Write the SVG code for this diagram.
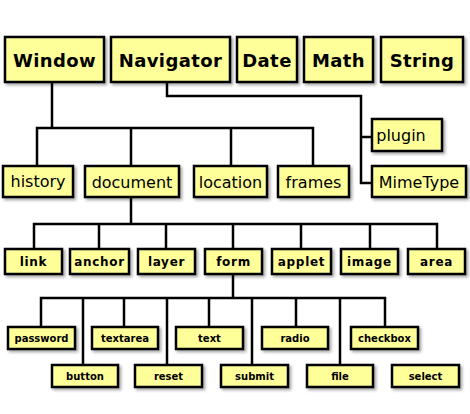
<svg xmlns="http://www.w3.org/2000/svg" width="470" height="414" viewBox="0 0 470 414">
<style>
.b{fill:#ffff99;stroke:#000;stroke-width:2.5;filter:url(#sh)}
.c{fill:none;stroke:#000;stroke-width:2.5}
text{font-family:"DejaVu Sans",Verdana,sans-serif;fill:#000;text-anchor:middle;dominant-baseline:central}
.t1{font-size:18px;font-weight:bold;letter-spacing:0.4px}
.t2{font-size:16px}
.t3{font-size:12px;font-weight:bold;letter-spacing:0.7px}
.t4{font-size:10px;font-weight:bold}
</style>
<defs>
<filter id="sh" x="-20%" y="-20%" width="150%" height="160%">
<feGaussianBlur in="SourceAlpha" stdDeviation="1.5"/>
<feOffset dx="2" dy="2" result="o"/>
<feComponentTransfer><feFuncA type="linear" slope="0.35"/></feComponentTransfer>
<feMerge><feMergeNode/><feMergeNode in="SourceGraphic"/></feMerge>
</filter>
</defs>
<g id="connectors" class="c">
<path d="M52 82V128M37 166V128H313V166M131 128V166M231 128V166"/>
<path d="M167 82V96H361V183H372M361 137H372"/>
<path d="M131 197V224M34 249V224H437V249M99 224V249M166 224V249M233 224V249M301 224V249M370 224V249"/>
<path d="M233 274V298M41 327V298H385V327M124 298V327M209 298V327M296 298V327M83 298V365M167 298V365M252 298V365M340 298V365"/>
</g>
<g id="Window"><rect class="b" x="5" y="37" width="99" height="45"/><text class="t1" x="54.5" y="60">Window</text></g>
<g id="Navigator"><rect class="b" x="111" y="37" width="119" height="45"/><text class="t1" x="170.5" y="60">Navigator</text></g>
<g id="Date"><rect class="b" x="237" y="37" width="60" height="45"/><text class="t1" x="267" y="60">Date</text></g>
<g id="Math"><rect class="b" x="304" y="37" width="69" height="45"/><text class="t1" x="338.5" y="60">Math</text></g>
<g id="String"><rect class="b" x="381" y="37" width="82" height="45"/><text class="t1" x="422" y="60">String</text></g>
<g id="history"><rect class="b" x="3" y="166" width="70" height="31"/><text class="t2" x="38" y="181">history</text></g>
<g id="document"><rect class="b" x="85" y="166" width="94" height="31"/><text class="t2" x="132" y="182">document</text></g>
<g id="location"><rect class="b" x="194" y="166" width="73" height="31"/><text class="t2" x="230.5" y="182">location</text></g>
<g id="frames"><rect class="b" x="278" y="166" width="71" height="31"/><text class="t2" x="313.5" y="182">frames</text></g>
<g id="plugin"><rect class="b" x="372" y="119" width="70" height="32"/><text class="t2" x="401" y="135">plugin</text></g>
<g id="MimeType"><rect class="b" x="372" y="166" width="94" height="31"/><text class="t2" x="419" y="182">MimeType</text></g>
<g id="link"><rect class="b" x="5" y="249" width="57" height="25"/><text class="t3" x="33.5" y="262">link</text></g>
<g id="anchor"><rect class="b" x="70" y="249" width="59" height="25"/><text class="t3" x="99.5" y="262">anchor</text></g>
<g id="layer"><rect class="b" x="138" y="249" width="57" height="25"/><text class="t3" x="166.5" y="262">layer</text></g>
<g id="form"><rect class="b" x="205" y="249" width="57" height="25"/><text class="t3" x="233.5" y="262">form</text></g>
<g id="applet"><rect class="b" x="272" y="249" width="59" height="25"/><text class="t3" x="301.5" y="262">applet</text></g>
<g id="image"><rect class="b" x="341" y="249" width="57" height="25"/><text class="t3" x="369.5" y="262">image</text></g>
<g id="area"><rect class="b" x="408" y="249" width="57" height="25"/><text class="t3" x="436.5" y="262">area</text></g>
<g id="password"><rect class="b" x="8" y="327" width="67" height="22"/><text class="t4" x="41.5" y="338">password</text></g>
<g id="textarea"><rect class="b" x="92" y="327" width="66" height="22"/><text class="t4" x="125" y="338">textarea</text></g>
<g id="text"><rect class="b" x="176" y="327" width="67" height="22"/><text class="t4" x="209.5" y="338">text</text></g>
<g id="radio"><rect class="b" x="262" y="327" width="66" height="22"/><text class="t4" x="295" y="338">radio</text></g>
<g id="checkbox"><rect class="b" x="351" y="327" width="67" height="22"/><text class="t4" x="384.5" y="338">checkbox</text></g>
<g id="button"><rect class="b" x="52" y="365" width="66" height="22"/><text class="t4" x="85" y="376">button</text></g>
<g id="reset"><rect class="b" x="135" y="365" width="67" height="22"/><text class="t4" x="168.5" y="376">reset</text></g>
<g id="submit"><rect class="b" x="221" y="365" width="67" height="22"/><text class="t4" x="254.5" y="376">submit</text></g>
<g id="file"><rect class="b" x="307" y="365" width="66" height="22"/><text class="t4" x="340" y="376">file</text></g>
<g id="select"><rect class="b" x="392" y="365" width="67" height="22"/><text class="t4" x="425.5" y="376">select</text></g>
</svg>
